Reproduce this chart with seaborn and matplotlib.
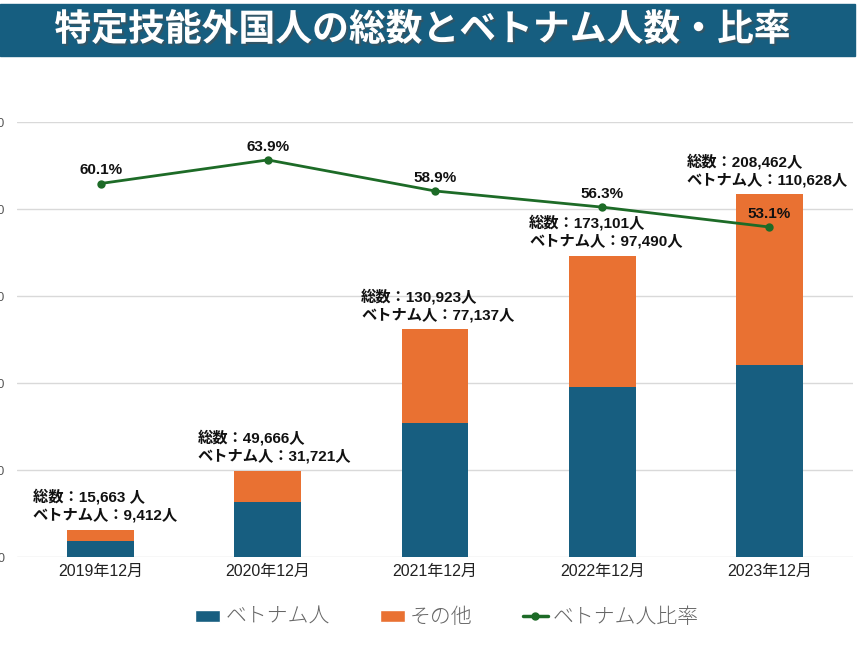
import matplotlib
matplotlib.use("Agg")
import matplotlib.pyplot as plt
import matplotlib.patheffects as pe
from matplotlib.patches import Patch, Rectangle
from matplotlib.lines import Line2D
from matplotlib.ticker import FuncFormatter
import seaborn as sns

# data
periods = ["2019年12月", "2020年12月", "2021年12月", "2022年12月", "2023年12月"]
totals = [15663, 49666, 130923, 173101, 208462]
vietnam = [9412, 31721, 77137, 97490, 110628]
ratio = [60.1, 63.9, 58.9, 56.3, 53.1]
total_texts = ["15,663 人", "49,666人", "130,923人", "173,101人", "208,462人"]
vietnam_texts = ["9,412人", "31,721人", "77,137人", "97,490人", "110,628人"]

BLUE = "#175e80"
ORANGE = "#e97132"
GREEN = "#1d6b27"
MIXED = ["Liberation Sans", "Noto Sans CJK JP", "DejaVu Sans"]

sns.set_theme(style="white")
plt.rcParams["font.family"] = ["Noto Sans CJK JP", "DejaVu Sans"]

fig = plt.figure(figsize=(8.64, 6.48), dpi=100)
ax = fig.add_axes([17 / 864, 1 - 557 / 648, (853 - 17) / 864, (557 - 122) / 648])

# stacked bars: total in orange, vietnam over it in blue
sns.barplot(x=periods, y=totals, color=ORANGE, width=0.4, saturation=1,
            linewidth=0, ax=ax)
sns.barplot(x=periods, y=vietnam, color=BLUE, width=0.4, saturation=1,
            linewidth=0, ax=ax)

ax.set_ylim(0, 250000)
ax.set_yticks(range(0, 250001, 50000))
ax.yaxis.set_major_formatter(FuncFormatter(lambda v, p: f"{int(v):,}"))
ax.grid(axis="y", color="#d9d9d9", linewidth=1)
ax.set_axisbelow(True)
ax.tick_params(axis="y", length=0, pad=9, labelsize=9, labelcolor="#555555")
ax.tick_params(axis="x", length=0, pad=5, labelsize=11.5, labelcolor="#222222")
for lab in ax.get_xticklabels() + ax.get_yticklabels():
    lab.set_family(MIXED)
for s in ax.spines.values():
    s.set_visible(False)

# per-label horizontal nudge (pixels) so the last one stays inside the frame
label_dx = [-68, -70, -74, -73, -83]
for i, (tt, vt) in enumerate(zip(total_texts, vietnam_texts)):
    ax.annotate(f"総数：{tt}\nベトナム人：{vt}", xy=(i, totals[i]),
                xytext=(label_dx[i] * 0.72, 5), textcoords="offset points",
                ha="left", va="bottom", fontsize=11, fontweight="bold",
                family=MIXED, color="#111111", linespacing=1.3)

# ratio line on a hidden secondary axis
ax2 = ax.twinx()
sns.pointplot(x=periods, y=ratio, color=GREEN, markers="o", markersize=4.5,
              linewidth=2, ax=ax2)
ax2.set_ylim(0, 70)
ax2.set_yticks([])
ax2.set_ylabel("")
for s in ax2.spines.values():
    s.set_visible(False)
for i, r in enumerate(ratio):
    ax2.annotate(f"{r}%", xy=(i, r), xytext=(0, 4.5), textcoords="offset points",
                 ha="center", va="bottom", fontsize=11, fontweight="bold",
                 family=MIXED, color="#111111")

# title band
fig.patches.append(Rectangle((0, 1 - 56 / 648), 855 / 864, 52 / 648,
                             transform=fig.transFigure, color="#165e80", zorder=0))
fig.text(422 / 864, 1 - 30 / 648, "特定技能外国人の総数とベトナム人数・比率",
         ha="center", va="center", color="white", fontsize=26.5, fontweight="bold",
         path_effects=[pe.withSimplePatchShadow(offset=(1.5, -1.5), alpha=0.5)])

handles = [
    Patch(facecolor=BLUE, label="ベトナム人"),
    Patch(facecolor=ORANGE, label="その他"),
    Line2D([0], [0], color=GREEN, linewidth=2.5, marker="o", markersize=5,
           label="ベトナム人比率"),
]
leg = fig.legend(handles=handles, loc="center", bbox_to_anchor=(447 / 864, 1 - 617 / 648),
                 ncol=3, frameon=False, fontsize=15, handlelength=1.2, handleheight=0.5,
                 handletextpad=0.25, columnspacing=2.4)
for t in leg.get_texts():
    t.set_color("#666666")
    t.set_fontweight("light")

fig.savefig("out.png", dpi=100)
